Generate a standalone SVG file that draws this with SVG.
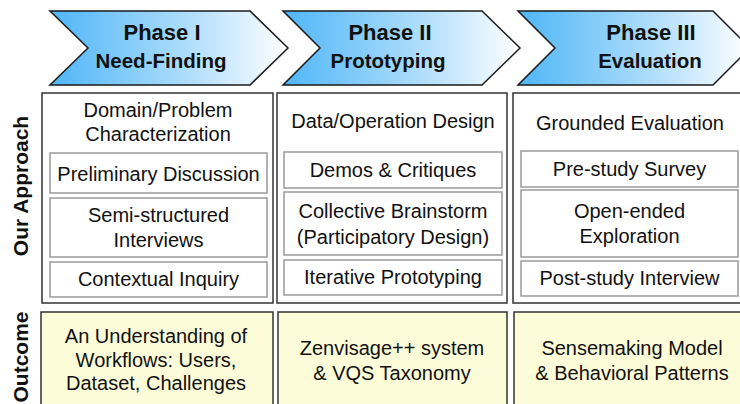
<svg xmlns="http://www.w3.org/2000/svg" width="740" height="404" viewBox="0 0 740 404">
<defs>
<linearGradient id="chev" x1="0" y1="0" x2="1" y2="0">
<stop offset="0" stop-color="#4fb6f7"/>
<stop offset="0.55" stop-color="#a9dbfb"/>
<stop offset="1" stop-color="#ffffff"/>
</linearGradient>
</defs>
<style>
text{font-family:"Liberation Sans",Arial,Helvetica,sans-serif;fill:#111;text-anchor:middle}
.chev{fill:url(#chev);stroke:#1a1a1a;stroke-width:1.5;stroke-linejoin:miter}
.h1{font-size:22px;font-weight:bold}
.h2{font-size:20.5px;font-weight:bold}
.side{font-size:21px;font-weight:bold}
.outer{fill:#fff;stroke:#333;stroke-width:1.5}
.inner{fill:#fff;stroke:#9a9a9a;stroke-width:1.5}
.out{fill:#fdfcd8;stroke:#333;stroke-width:1.5}
.t{font-size:20px}
</style>
<rect width="740" height="404" fill="#fff"/>

<g id="phase1">
<polygon class="chev" points="50,11 250,11 288,48 250,85 50,85 88,48"/>
<text class="h1" x="162" y="40">Phase I</text>
<text class="h2" x="161" y="68">Need-Finding</text>
</g>
<g id="phase2">
<polygon class="chev" points="283,11 482,11 520,48 482,85 283,85 320,48"/>
<text class="h1" x="390" y="40">Phase II</text>
<text class="h2" x="388" y="68">Prototyping</text>
</g>
<g id="phase3">
<polygon class="chev" points="518,11 713,11 750,48 713,85 518,85 555,48"/>
<text class="h1" x="651" y="40">Phase III</text>
<text class="h2" x="650" y="68">Evaluation</text>
</g>

<g id="label-approach">
<text class="side" transform="translate(28,186) rotate(-90)">Our Approach</text>
</g>
<g id="label-outcome">
<text class="side" transform="translate(28,357) rotate(-90)">Outcome</text>
</g>

<g id="approach1">
<rect class="outer" x="42" y="93" width="231" height="210"/>
<text class="t" x="158" y="117">Domain/Problem</text>
<text class="t" x="158" y="141">Characterization</text>
<rect class="inner" x="50" y="153" width="217" height="40"/>
<text class="t" x="158.5" y="181">Preliminary Discussion</text>
<rect class="inner" x="50" y="198" width="217" height="59"/>
<text class="t" x="158.5" y="222">Semi-structured</text>
<text class="t" x="158.5" y="247">Interviews</text>
<rect class="inner" x="50" y="262" width="217" height="35"/>
<text class="t" x="158.5" y="286">Contextual Inquiry</text>
</g>

<g id="approach2">
<rect class="outer" x="277" y="93" width="230" height="210"/>
<text class="t" x="393" y="128">Data/Operation Design</text>
<rect class="inner" x="284" y="152" width="218" height="36"/>
<text class="t" x="393" y="177">Demos &amp; Critiques</text>
<rect class="inner" x="284" y="192" width="218" height="63"/>
<text class="t" x="393" y="218">Collective Brainstorm</text>
<text class="t" x="393" y="244">(Participatory Design)</text>
<rect class="inner" x="284" y="260" width="218" height="35"/>
<text class="t" x="393" y="284">Iterative Prototyping</text>
</g>

<g id="approach3">
<rect class="outer" x="513" y="93" width="232" height="210"/>
<text class="t" x="630" y="130">Grounded Evaluation</text>
<rect class="inner" x="521" y="151" width="217" height="36"/>
<text class="t" x="629.5" y="176">Pre-study Survey</text>
<rect class="inner" x="521" y="190" width="217" height="67"/>
<text class="t" x="629.5" y="218">Open-ended</text>
<text class="t" x="629.5" y="243">Exploration</text>
<rect class="inner" x="521" y="261" width="217" height="35"/>
<text class="t" x="629.5" y="285">Post-study Interview</text>
</g>

<g id="outcome1">
<rect class="out" x="41" y="312" width="232" height="100"/>
<text class="t" x="156" y="343">An Understanding of</text>
<text class="t" x="156" y="367">Workflows: Users,</text>
<text class="t" x="156" y="390">Dataset, Challenges</text>
</g>
<g id="outcome2">
<rect class="out" x="278" y="312" width="229" height="100"/>
<text class="t" x="392" y="355">Zenvisage++ system</text>
<text class="t" x="392" y="380">&amp; VQS Taxonomy</text>
</g>
<g id="outcome3">
<rect class="out" x="514" y="312" width="231" height="100"/>
<text class="t" x="632" y="355">Sensemaking Model</text>
<text class="t" x="632" y="380">&amp; Behavioral Patterns</text>
</g>
</svg>
